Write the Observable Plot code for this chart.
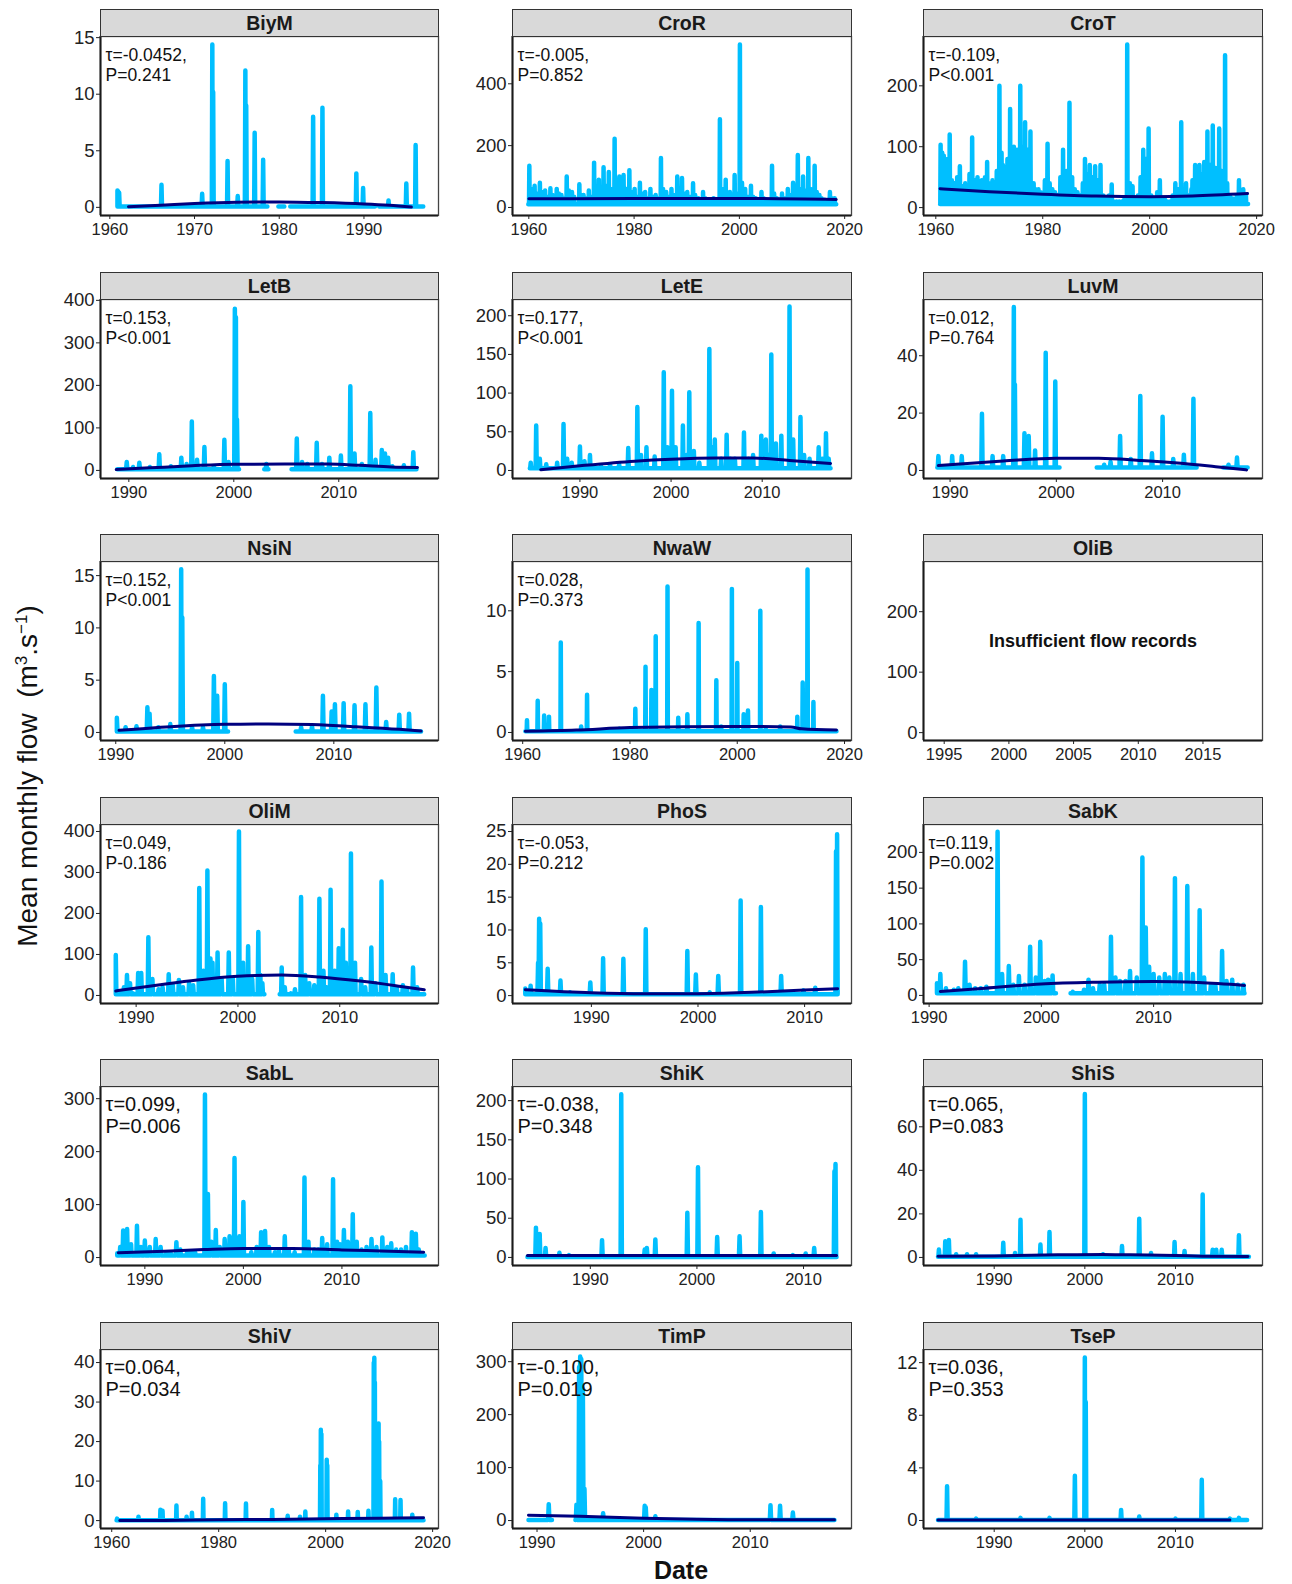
<!DOCTYPE html>
<html><head><meta charset="utf-8">
<script src="https://cdn.jsdelivr.net/npm/d3@7"></script>
<script src="https://cdn.jsdelivr.net/npm/@observablehq/plot@0.6"></script>
<style>
body{margin:0;background:#fff;font-family:"Liberation Sans",Arial,sans-serif;}
#wrap{position:relative;width:1292px;height:1584px;overflow:hidden;background:#fff;}
.strip{position:absolute;box-sizing:border-box;background:#d9d9d9;border:1.5px solid #333;height:28px;display:flex;align-items:center;justify-content:center;font-weight:bold;font-size:19.5px;color:#1a1a1a;}
.panel{position:absolute;display:block;}
#ylab{position:absolute;left:28px;top:776px;transform:translate(-50%,-50%) rotate(-90deg);white-space:nowrap;font-size:28px;color:#111;}
#ylab sup{font-size:17px;}
#xlab{position:absolute;left:681px;top:1570px;transform:translate(-50%,-50%);font-weight:bold;font-size:25px;color:#111;}
</style></head><body><div id="wrap"></div>
<script>
// ---------------- DATA ----------------
const stations = ["BiyM","CroR","CroT","LetB","LetE","LuvM","NsiN","NwaW","OliB","OliM","PhoS","SabK","SabL","ShiK","ShiS","ShiV","TimP","TseP"];
const tauText = ["τ=-0.0452,","τ=-0.005,","τ=-0.109,","τ=0.153,","τ=0.177,","τ=0.012,","τ=0.152,","τ=0.028,",null,"τ=0.049,","τ=-0.053,","τ=0.119,","τ=0.099,","τ=-0.038,","τ=0.065,","τ=0.064,","τ=-0.100,","τ=0.036,"];
const pText = ["P=0.241","P=0.852","P<0.001","P<0.001","P<0.001","P=0.764","P<0.001","P=0.373",null,"P-0.186","P=0.212","P=0.002","P=0.006","P=0.348","P=0.083","P=0.034","P=0.019","P=0.353"];
const noDataText = "Insufficient flow records";

// record start, end (decimal year) and typical dry-season flow
const recordStart = [1960.9,1959.9,1960.8,1988.9,1984.5,1988.8,1990.1,1960.5,null,1988.0,1983.8,1990.7,1987.2,1984.1,1983.8,1960.9,1989.2,1983.8];
const recordEnd   = [1997.0,2018.4,2018.4,2017.4,2017.5,2018.0,2018.0,2018.5,null,2018.3,2013.1,2018.1,2018.4,2013.1,2018.1,2018.3,2017.9,2017.9];
const baseFlow    = [0.08,10,6,3,3,1,0.1,0.1,null,3,0.2,3,4,0.5,0.3,0.1,1,0.03];
const recordGaps  = [
  [[1978.6,1979.9],[1980.6,1981.3],[1991.3,1991.8]], [], [],
  [[2000.5,2002.9],[2003.3,2005.5]], [], [[2000.3,2003.8],[2013.2,2015.7]],
  [[2000.3,2006.5]], [], [],
  [[2002.6,2004.1]], [], [[2001.3,2002.6]],
  [], [], [],
  [], [[1991.4,1993.6]], []
];

// monthly peaks [year, m3/s]
const BiyM = [[1960.9,1.5],[1961.0,1.4],[1961.1,1.3],[1966.1,2.0],[1970.9,1.2],[1972.1,14.4],[1972.2,10.2],[1973.9,4.1],[1975.1,1.0],[1976.0,12.1],[1976.1,9.0],[1977.1,6.6],[1978.1,4.2],[1984.0,8.0],[1985.1,8.8],[1989.1,3.0],[1989.9,1.7],[1992.9,0.6],[1995.0,2.1],[1996.1,5.5]];
const CroR = [[1960.1,135],[1961.1,70],[1962.1,80],[1963.1,55],[1964.1,62],[1965.3,60],[1966.2,40],[1967.2,100],[1968.2,50],[1969.6,75],[1970.4,40],[1971.4,55],[1972.4,145],[1973.3,90],[1974.2,130],[1975.2,115],[1976.3,222],[1977.2,100],[1978.0,105],[1979.1,120],[1980.1,60],[1981.1,80],[1982.1,50],[1983.1,60],[1984.1,40],[1985.1,160],[1986.1,50],[1987.1,60],[1988.2,100],[1989.1,95],[1990.1,50],[1991.2,78],[1992.2,30],[1993.1,50],[1994.1,20],[1995.1,30],[1996.3,285],[1997.4,90],[1998.2,50],[1999.1,105],[2000.1,527],[2001.1,60],[2002.2,70],[2003.1,30],[2004.2,50],[2005.1,25],[2006.2,135],[2007.1,30],[2008.1,45],[2009.2,60],[2010.2,80],[2011.1,170],[2012.1,100],[2013.1,160],[2014.3,135],[2015.2,40],[2016.2,25],[2017.2,50],[2018.1,30]];
const CroRBand = [[1960.5,60],[1961.5,45],[1962.5,50],[1963.5,35],[1964.5,40],[1965.7,45],[1966.6,30],[1967.6,55],[1968.6,35],[1970.0,40],[1970.8,30],[1971.8,35],[1972.8,60],[1973.7,55],[1974.6,70],[1975.6,60],[1976.7,90],[1977.6,55],[1978.5,60],[1979.5,50],[1980.5,35],[1981.5,45],[1982.5,30],[1983.5,35],[1984.5,30],[1985.5,60],[1986.5,35],[1987.5,40],[1988.6,50],[1989.5,45],[1990.5,35],[1991.6,40],[1992.6,25],[1993.5,30],[1994.5,20],[1995.5,25],[1996.7,60],[1997.8,40],[1998.6,35],[1999.5,45],[2000.5,80],[2001.5,35],[2002.6,35],[2003.5,25],[2004.6,30],[2005.5,20],[2006.6,45],[2007.5,25],[2008.5,30],[2009.6,40],[2010.6,50],[2011.5,60],[2012.5,55],[2013.5,60],[2014.7,50],[2015.6,30],[2016.6,20],[2017.6,30]];
const CroT = [[1960.9,103],[1961.5,85],[1962.6,120],[1963.5,40],[1964.5,68],[1965.5,40],[1966.8,115],[1967.8,50],[1968.6,45],[1969.6,75],[1970.6,45],[1971.9,200],[1972.3,90],[1972.8,60],[1973.9,162],[1974.6,100],[1975.2,95],[1975.8,200],[1976.3,100],[1976.7,140],[1977.2,95],[1977.7,125],[1978.7,30],[1979.6,25],[1980.9,105],[1981.8,30],[1982.8,20],[1983.8,95],[1985.0,172],[1986.0,30],[1987.0,20],[1987.9,80],[1988.8,70],[1989.8,68],[1990.8,70],[1991.8,15],[1992.9,38],[1993.8,10],[1994.8,10],[1995.8,268],[1996.8,35],[1997.8,20],[1998.8,95],[1999.8,130],[2000.8,15],[2001.9,45],[2002.8,15],[2003.8,10],[2004.8,40],[2005.9,140],[2006.8,40],[2007.8,30],[2008.5,70],[2009.3,70],[2010.2,75],[2010.8,125],[2011.8,135],[2013.0,130],[2014.1,250],[2015.0,20],[2016.7,45],[2017.5,30]];
const CroTBand = [[1961.2,90],[1962.2,80],[1963.0,45],[1964.0,50],[1965.0,35],[1966.3,55],[1967.3,45],[1968.2,40],[1969.2,50],[1970.2,40],[1971.4,60],[1972.55,70],[1973.4,80],[1974.2,90],[1975.5,95],[1976.5,100],[1977.45,80],[1978.3,40],[1979.2,30],[1980.4,45],[1981.3,40],[1982.3,25],[1983.3,50],[1984.4,60],[1985.5,50],[1986.5,25],[1987.5,40],[1988.3,55],[1989.3,50],[1990.3,45],[1991.3,20],[1992.4,20],[1993.3,10],[1994.3,10],[1995.3,15],[1996.3,40],[1997.3,15],[1998.3,50],[1999.3,80],[2000.3,20],[2001.4,25],[2002.3,12],[2003.3,10],[2004.3,20],[2005.4,30],[2006.3,25],[2007.3,20],[2008.0,45],[2008.9,50],[2009.8,55],[2010.5,60],[2011.3,70],[2012.3,65],[2012.7,60],[2013.5,60],[2014.5,40],[2015.5,15],[2016.3,20],[2017.0,25],[2018.0,20]];
const LetB = [[1989.8,20],[1991.0,18],[1992.0,8],[1992.9,38],[1994.0,10],[1995.0,30],[1996.0,115],[1997.2,55],[1998.1,10],[1999.1,72],[2000.1,380],[2000.2,360],[2000.3,120],[2003.1,15],[2006.0,75],[2007.0,15],[2007.9,65],[2009.1,30],[2010.2,35],[2011.1,198],[2012.2,15],[2013.0,135],[2014.1,48],[2014.4,40],[2015.1,10],[2016.2,12],[2017.1,43]];
const LetBBand = [[1990.4,8],[1995.5,15],[1996.5,25],[1999.5,20],[2006.5,20],[2008.4,15],[2011.5,40],[2013.5,25],[2014.7,30]];
const LetE = [[1984.6,10],[1985.2,58],[1986.3,8],[1987.5,10],[1988.2,60],[1989.1,10],[1990.0,31],[1991.1,20],[1992.3,6],[1993.3,8],[1994.3,8],[1995.3,29],[1996.3,82],[1997.3,30],[1998.2,18],[1999.2,127],[2000.1,103],[2001.3,58],[2002.0,101],[2003.1,10],[2004.2,157],[2004.8,40],[2006.1,46],[2007.0,15],[2008.0,49],[2009.0,20],[2009.9,45],[2010.4,40],[2011.0,150],[2012.1,45],[2013.0,212],[2014.2,69],[2015.2,15],[2016.2,30],[2017.0,48]];
const LetEBand = [[1985.6,15],[1988.6,15],[1990.5,12],[1996.7,20],[1999.6,30],[2000.5,30],[2001.7,20],[2002.5,25],[2004.5,30],[2005.5,15],[2006.5,15],[2008.5,15],[2010.7,20],[2011.5,35],[2013.4,40],[2014.6,20],[2016.6,15],[2017.3,15]];
const LuvM = [[1988.9,5],[1990.2,5],[1991.1,5],[1993.0,19.8],[1994.0,5],[1995.0,5],[1996.0,57],[1996.1,30],[1997.0,13],[1997.4,12],[1998.0,7],[1999.0,41],[1999.9,31],[2004.5,2],[2005.1,3],[2006.0,12],[2007.0,4],[2007.9,26],[2009.0,6],[2010.0,18.7],[2011.0,4],[2012.0,5.5],[2012.9,25],[2016.2,2],[2017.0,4.5]];
const NsiN = [[1990.1,1.4],[1990.9,0.5],[1991.9,0.6],[1992.9,2.4],[1993.1,1.8],[1993.9,0.5],[1995.0,0.8],[1996.0,15.6],[1996.1,11],[1997.0,0.5],[1998.0,0.5],[1999.0,5.4],[1999.3,3.5],[2000.0,4.6],[2007.0,0.5],[2008.0,0.6],[2009.0,3.5],[2009.8,2.0],[2010.1,2.7],[2010.9,2.8],[2011.9,2.6],[2012.9,2.7],[2013.9,4.3],[2014.8,1.0],[2016.0,1.7],[2016.9,1.8]];
const NwaW = [[1960.8,1.0],[1962.8,2.6],[1964.0,1.4],[1964.9,1.3],[1967.1,7.4],[1970.9,0.5],[1972.0,3.1],[1978.0,0.3],[1981.0,1.95],[1982.9,5.4],[1984.0,3.5],[1984.8,7.9],[1987.0,12.0],[1989.0,1.2],[1990.7,1.5],[1992.8,9.0],[1996.1,4.3],[1997.0,0.5],[1999.0,11.8],[2000.0,5.7],[2001.2,1.5],[2002.0,1.8],[2004.3,10.0],[2005.3,0.3],[2008.0,0.5],[2011.2,1.3],[2012.2,4.1],[2013.1,13.4],[2014.2,2.5]];
const OliB = [];
const OliM = [[1988.0,99],[1988.5,10],[1989.1,50],[1989.7,5],[1990.2,55],[1990.5,55],[1991.2,142],[1992.2,15],[1993.2,52],[1994.2,38],[1995.2,30],[1996.2,262],[1997.0,305],[1997.5,80],[1998.0,105],[1999.1,105],[2000.1,400],[2001.0,120],[2002.0,155],[2002.4,30],[2004.3,68],[2005.2,5],[2006.2,240],[2007.0,30],[2008.0,236],[2008.7,20],[2009.1,258],[2009.9,115],[2010.3,160],[2010.6,80],[2011.1,346],[2012.1,40],[2013.1,117],[2014.1,278],[2015.2,52],[2016.2,25],[2017.2,68]];
const OliMBand = [[1988.8,20],[1989.4,30],[1991.6,40],[1992.6,20],[1993.6,25],[1994.6,20],[1995.6,25],[1996.6,60],[1997.3,90],[1998.4,40],[1999.5,40],[2000.5,80],[2001.4,40],[2002.2,50],[2004.6,20],[2005.6,15],[2006.6,50],[2007.5,25],[2008.4,60],[2009.5,60],[2010.9,60],[2011.5,80],[2012.5,20],[2013.5,30],[2014.5,50],[2015.6,20],[2016.6,15],[2017.6,20]];
const PhoS = [[1983.8,1.1],[1984.3,1.5],[1985.0,5],[1985.1,11.7],[1985.2,11],[1985.9,4.1],[1987.1,2.3],[1988.0,0.5],[1989.9,2.0],[1991.1,5.7],[1993.0,5.6],[1995.1,10.1],[1999.0,6.8],[1999.8,3.2],[2001.1,0.5],[2001.9,3.0],[2004.0,14.5],[2005.9,13.5],[2007.8,3.0],[2009.9,0.8],[2011.0,1.2],[2012.95,22],[2013.05,24.6]];
const SabK = [[1990.7,17],[1991.0,30],[1992.2,8],[1993.2,47],[1994.1,10],[1995.1,12],[1996.1,229],[1997.1,41],[1998.0,27],[1999.0,68],[1999.9,75],[2000.6,22],[2001.0,28],[2002.8,5],[2003.8,8],[2004.2,22],[2005.2,15],[2006.2,82],[2007.0,20],[2007.9,34],[2009.0,193],[2009.3,95],[2010.0,30],[2011.0,30],[2011.9,164],[2013.0,153],[2014.1,119],[2015.1,15],[2016.1,62],[2017.0,22],[2018.0,15]];
const SabKBand = [[1991.5,10],[1992.6,10],[1993.6,15],[1994.6,10],[1996.5,30],[1997.5,15],[1998.5,15],[1999.5,25],[2000.3,20],[2004.6,10],[2005.6,15],[2006.6,25],[2007.5,20],[2008.5,25],[2009.6,40],[2010.5,25],[2011.4,25],[2012.4,30],[2013.5,30],[2014.5,25],[2015.5,15],[2016.5,20],[2017.5,15]];
const SabL = [[1987.2,8],[1987.8,51],[1988.2,54],[1989.2,60],[1990.0,32],[1991.1,35],[1992.2,10],[1993.2,29],[1994.3,12],[1995.1,10],[1996.1,308],[1996.4,120],[1997.2,52],[1998.1,35],[1999.1,188],[2000.0,105],[2000.8,10],[2001.8,48],[2002.2,50],[2003.2,10],[2004.2,40],[2005.2,10],[2006.2,151],[2007.2,15],[2008.0,37],[2009.1,148],[2009.5,30],[2010.2,52],[2011.1,82],[2012.0,15],[2013.0,35],[2014.1,38],[2015.0,27],[2016.0,15],[2017.1,48],[2017.5,45]];
const SabLBand = [[1987.5,20],[1988.6,25],[1989.6,20],[1990.5,20],[1991.6,20],[1992.6,10],[1993.6,15],[1994.7,10],[1996.75,30],[1997.6,20],[1998.6,40],[1999.6,40],[2001.35,20],[2002.6,20],[2003.6,15],[2004.6,15],[2006.6,30],[2007.6,15],[2008.5,25],[2009.8,25],[2010.6,30],[2011.5,30],[2012.5,20],[2013.5,20],[2014.6,20],[2015.5,15],[2016.5,20],[2017.8,15]];
const ShiK = [[1984.9,38],[1985.25,30],[1985.8,12],[1987.1,6],[1988.0,3],[1991.1,22],[1992.9,208],[1995.1,10],[1995.3,12],[1996.1,23],[1999.1,57],[2000.1,115],[2001.9,26],[2004.0,27],[2006.0,58],[2007.2,5],[2009.0,3],[2010.2,5],[2011.0,12],[2012.9,110],[2013.0,119]];
const ShiS = [[1983.9,3.6],[1984.6,7.4],[1985.0,8],[1985.8,1.5],[1987.0,1.5],[1988.0,1.5],[1991.0,6.7],[1992.3,2],[1992.9,17.3],[1995.1,5.9],[1996.1,11.7],[2000.0,75],[2002.0,1.5],[2004.1,5.2],[2006.0,17.8],[2007.3,2],[2009.9,7.1],[2011.0,3],[2013.0,28.9],[2014.1,3.5],[2014.5,3.5],[2015.1,3.5],[2017.0,10.2]];
const ShiV = [[1961.0,0.5],[1965.0,1.0],[1969.1,2.75],[1969.5,2.5],[1972.1,3.8],[1974.0,1.0],[1975.0,2.0],[1977.1,5.5],[1981.2,4.4],[1985.1,4.3],[1990.0,2.7],[1992.9,1.2],[1995.2,1.0],[1996.2,2.3],[1999.0,14],[1999.1,23],[1999.2,22],[2000.2,15.4],[2000.3,14],[2002.0,1.5],[2004.2,2.3],[2006.0,2.2],[2008.0,2.5],[2009.0,40],[2009.1,41.2],[2009.2,35],[2009.9,24.6],[2010.0,20],[2010.2,10],[2013.0,5.4],[2014.0,5.2],[2016.2,1.5]];
const TimP = [[1991.1,31],[1993.7,30],[1993.95,290],[1994.05,310],[1994.15,305],[1994.3,250],[1994.45,60],[1996.2,14],[2000.1,28],[2000.2,25],[2001.1,8],[2011.9,29],[2012.8,28],[2014.0,15]];
const TseP = [[1984.8,2.6],[1988.0,0.15],[1992.9,0.2],[1996.1,0.2],[1998.9,3.4],[2000.0,12.4],[2000.1,9],[2004.0,0.8],[2006.0,0.3],[2010.0,0.15],[2012.9,3.1],[2016.0,0.15],[2017.0,0.2]];
const peaks = [BiyM, CroR.concat(CroRBand), CroT.concat(CroTBand), LetB.concat(LetBBand), LetE.concat(LetEBand), LuvM, NsiN, NwaW, OliB, OliM.concat(OliMBand), PhoS, SabK.concat(SabKBand), SabL.concat(SabLBand), ShiK, ShiS, ShiV, TimP, TseP];

// smoothed trend (navy line) [year, m3/s]
const trends = [
  [[1962.2,0.05],[1966,0.18],[1970,0.33],[1975,0.45],[1980,0.48],[1985,0.42],[1990,0.3],[1993,0.18],[1995.6,0.03]],
  [[1960,28],[1980,29],[2000,29],[2018.4,26]],
  [[1960.8,31],[1970,26],[1980,22],[1990,19],[2000,18],[2008,19],[2018.3,23]],
  [[1988.8,2],[1992,6],[1996,11],[2000,14.5],[2005,15],[2009,15],[2012,12],[2015,8],[2017.5,7]],
  [[1985.7,1],[1990,6],[1996,12],[2000,14.5],[2005,16],[2009,16],[2013,13],[2017.5,9]],
  [[1988.9,1.7],[1995,3.3],[2000,4.3],[2004,4.3],[2008,3.5],[2012,2.4],[2015,1.3],[2017.9,0.2]],
  [[1990.3,0.2],[1995,0.55],[2000,0.78],[2004,0.82],[2008,0.75],[2012,0.55],[2016,0.3],[2018,0.13]],
  [[1960.5,0.1],[1970,0.2],[1980,0.4],[2000,0.5],[2010,0.45],[2012,0.3],[2018.5,0.2]],
  [],
  [[1988.0,11],[1992,25],[1996,38],[2000,47],[2004.3,50],[2008,45],[2012,35],[2016,22],[2018.3,14]],
  [[1983.8,0.9],[1990,0.45],[1995,0.3],[2000,0.3],[2005,0.5],[2010,0.85],[2013.1,1.05]],
  [[1991,5.5],[1995,10],[2000,16],[2005,18.5],[2010,19.5],[2014,18],[2018.1,14]],
  [[1987.3,9],[1992,12],[1996,15],[2000,17],[2005,17],[2010,14.5],[2014,12.5],[2018.3,10]],
  [[1984.1,2.5],[2000,2.5],[2013.1,2.4]],
  [[1983.8,0.6],[1990,0.7],[1997,1.2],[2002,1.4],[2005,1.2],[2010,0.9],[2013,0.6],[2018,0.4]],
  [[1961.5,0.0],[1970,0.05],[1980,0.2],[1990,0.3],[2000,0.45],[2010,0.6],[2018.3,0.7]],
  [[1989.2,10],[1994,8],[2000,4.5],[2005,2.5],[2010,1.5],[2017.9,1.5]],
  [[1983.8,0.04],[2000,0.04],[2016.0,0.03]]
];

// axes
const xDomains = [[1958.9,1998.8],[1956.9,2021.3],[1957.7,2021.1],[1987.3,2019.5],[1982.6,2019.8],[1987.5,2019.4],[1988.6,2019.6],[1958.1,2021.3],[1993.4,2019.6],[1986.5,2019.7],[1982.6,2014.4],[1989.5,2019.7],[1985.5,2019.8],[1982.7,2014.5],[1982.2,2019.6],[1957.9,2021.1],[1987.7,2019.5],[1982.2,2019.6]];
const yDomains = [[-0.72,15.1],[-26,553],[-13,281],[-19,402],[-10.4,221],[-2.8,59.6],[-0.77,16.35],[-0.66,14.05],[-13,283],[-19.6,417],[-1.2,26.07],[-11.3,239],[-15,323],[-10.3,218],[-3.7,78.5],[-2.0,43.3],[-15,323],[-0.61,13.0]];
const xTickVals = [[1960,1970,1980,1990],[1960,1980,2000,2020],[1960,1980,2000,2020],[1990,2000,2010],[1990,2000,2010],[1990,2000,2010],[1990,2000,2010],[1960,1980,2000,2020],[1995,2000,2005,2010,2015],[1990,2000,2010],[1990,2000,2010],[1990,2000,2010],[1990,2000,2010],[1990,2000,2010],[1990,2000,2010],[1960,1980,2000,2020],[1990,2000,2010],[1990,2000,2010]];
const yTickVals = [[0,5,10,15],[0,200,400],[0,100,200],[0,100,200,300,400],[0,50,100,150,200],[0,20,40],[0,5,10,15],[0,5,10],[0,100,200],[0,100,200,300,400],[0,5,10,15,20,25],[0,50,100,150,200],[0,100,200,300],[0,50,100,150,200],[0,20,40,60],[0,10,20,30,40],[0,100,200,300],[0,4,8,12]];

// ---------------- BUILD ----------------
function buildSeries(ev, start, end, base, gaps) {
  const W = 0.06;
  const e = ev.slice().sort((a,b)=>a[0]-b[0]);
  let pts = [[start, base]];
  e.forEach(([t,v],k) => {
    const last = pts[pts.length-1][0];
    if (t - W > last) pts.push([t - W, base]);
    pts.push([t, v]);
    const nx = e[k+1];
    if ((!nx || nx[0] - t > 2*W + 0.001) && t + W < end) pts.push([t + W, base]);
  });
  if (end > pts[pts.length-1][0]) pts.push([end, base]);
  for (const [a,b] of gaps) {
    pts = pts.filter(p => p[0] <= a || p[0] >= b);
    pts.push([a, base], [(a+b)/2, NaN], [b, base]);
    pts.sort((p,q)=>p[0]-q[0]);
  }
  return pts;
}

const wrap = document.getElementById("wrap");
const colLeft = [100, 512, 923];
const colW = [338, 339, 339];
const stripTop0 = 9, rowPitch = 262.6, stripH = 28, plotH = 179;
const ML = 52, MR = 28, MB = 36;
const lightBlue = "#00BFFF", navy = "#00007F";

stations.forEach((name, i) => {
  const r = Math.floor(i/3), c = i % 3;
  const left = colLeft[c], w = colW[c];
  const st = Math.round(stripTop0 + r*rowPitch);
  const pt = st + stripH - 1;

  const strip = document.createElement("div");
  strip.className = "strip";
  strip.style.left = left + "px";
  strip.style.top = st + "px";
  strip.style.width = (w + 1) + "px";
  strip.textContent = name;

  const big = r >= 4;
  const marks = [];
  if (peaks[i].length) {
    const pts = buildSeries(peaks[i], recordStart[i], recordEnd[i], baseFlow[i], recordGaps[i]);
    marks.push(Plot.line(pts, {x: d=>d[0], y: d=>d[1], stroke: lightBlue, strokeWidth: 4.5, strokeLinejoin: "round", clip: true}));
    marks.push(Plot.line(trends[i], {x: d=>d[0], y: d=>d[1], stroke: navy, strokeWidth: 3, curve: "monotone-x", clip: true}));
    marks.push(Plot.text([tauText[i] + "\n" + pText[i]], {text: d=>d, frameAnchor: "top-left", dx: 5, dy: big ? 9 : 10, lineAnchor: "top", textAnchor: "start", fontSize: big ? 20 : 17.5, lineHeight: big ? 1.1 : 1.16, fill: "#111"}));
  } else {
    marks.push(Plot.text([noDataText], {text: d=>d, frameAnchor: "middle", dy: -10, fontWeight: "bold", fontSize: 18, fill: "#111"}));
  }
  marks.push(Plot.frame({stroke: "#444", strokeWidth: 1.3}));
  marks.push(Plot.ruleY([yDomains[i][0]], {stroke: "#1a1a1a", strokeWidth: 2}));
  marks.push(Plot.ruleX([xDomains[i][0]], {stroke: "#1a1a1a", strokeWidth: 2}));
  marks.push(Plot.axisX({ticks: xTickVals[i], tickFormat: d => String(d), tickSize: 4, tickPadding: 4, label: null, fontSize: 16.5}));
  marks.push(Plot.axisY({ticks: yTickVals[i], tickFormat: d => String(d), tickSize: 4, tickPadding: 2, label: null, fontSize: 18.5}));

  const svg = Plot.plot({
    width: ML + w + MR, height: plotH + MB,
    marginLeft: ML, marginRight: MR, marginTop: 0, marginBottom: MB,
    x: {domain: xDomains[i]},
    y: {domain: yDomains[i]},
    style: {fontFamily: '"Liberation Sans", Arial, sans-serif', fontSize: "16px", color: "#222", background: "transparent", overflow: "visible"},
    marks
  });
  svg.classList.add("panel");
  svg.style.left = (left - ML) + "px";
  svg.style.top = pt + "px";
  wrap.appendChild(svg);
  wrap.appendChild(strip);
});

const ylab = document.createElement("div");
ylab.id = "ylab";
ylab.innerHTML = "Mean monthly flow&nbsp;&nbsp;(m<sup>3</sup>.s<sup>−1</sup>)";
wrap.appendChild(ylab);
const xlab = document.createElement("div");
xlab.id = "xlab";
xlab.textContent = "Date";
wrap.appendChild(xlab);
</script></body></html>
